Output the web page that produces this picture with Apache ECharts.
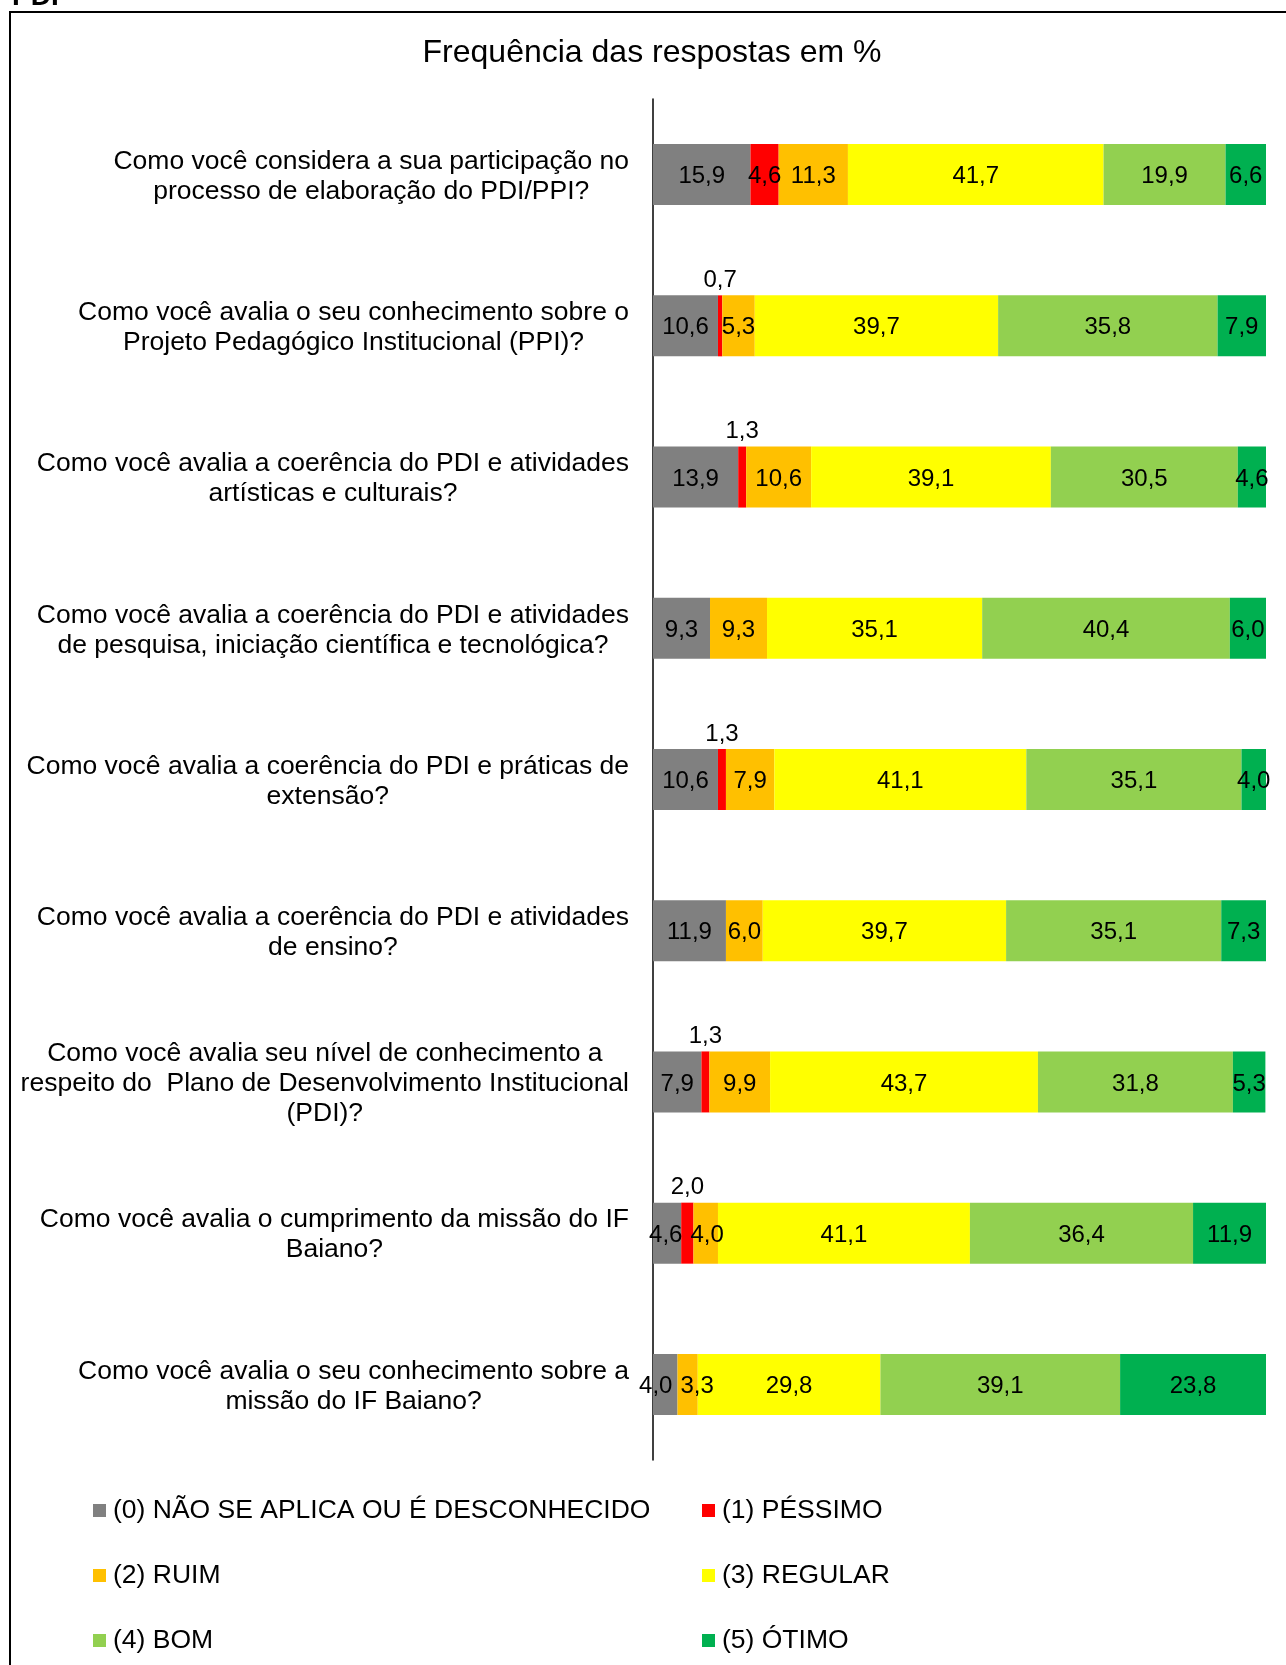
<!DOCTYPE html>
<html>
<head>
<meta charset="utf-8">
<script src="https://cdn.jsdelivr.net/npm/echarts@6/dist/echarts.min.js"></script>
<style>
  html, body { margin: 0; padding: 0; background: #fff; }
  #chart { width: 1286px; height: 1665px; }
</style>
</head>
<body>
<div id="chart"></div>
<script>
// ---- Data ----
const categories = [
  "Como você considera a sua participação no\nprocesso de elaboração do PDI/PPI?",
  "Como você avalia o seu conhecimento sobre o\nProjeto Pedagógico Institucional (PPI)?",
  "Como você avalia a coerência do PDI e atividades\nartísticas e culturais?",
  "Como você avalia a coerência do PDI e atividades\nde pesquisa, iniciação científica e tecnológica?",
  "Como você avalia a coerência do PDI e práticas de\nextensão?",
  "Como você avalia a coerência do PDI e atividades\nde ensino?",
  "Como você avalia seu nível de conhecimento a\nrespeito do  Plano de Desenvolvimento Institucional\n(PDI)?",
  "Como você avalia o cumprimento da missão do IF\nBaiano?",
  "Como você avalia o seu conhecimento sobre a\nmissão do IF Baiano?"
];
const seriesNames = [
  "(0) NÃO SE APLICA OU É DESCONHECIDO",
  "(1) PÉSSIMO",
  "(2) RUIM",
  "(3) REGULAR",
  "(4) BOM",
  "(5) ÓTIMO"
];
const naoSeAplica = [15.9, 10.6, 13.9, 9.3, 10.6, 11.9, 7.9, 4.6, 4.0];
const pessimo     = [4.6, 0.7, 1.3, 0, 1.3, 0, 1.3, 2.0, 0];
const ruim        = [11.3, 5.3, 10.6, 9.3, 7.9, 6.0, 9.9, 4.0, 3.3];
const regular     = [41.7, 39.7, 39.1, 35.1, 41.1, 39.7, 43.7, 41.1, 29.8];
const bom         = [19.9, 35.8, 30.5, 40.4, 35.1, 35.1, 31.8, 36.4, 39.1];
const otimo       = [6.6, 7.9, 4.6, 6.0, 4.0, 7.3, 5.3, 11.9, 23.8];
const titleText = "Frequência das respostas em %";
const headerText = "PDI";

// ---- Styles ----
const FONT = "'Liberation Sans', Arial, Helvetica, sans-serif";
const LABEL_SIZE = 24;
const colors = ['#808080', '#FF0000', '#FFC000', '#FFFF00', '#92D050', '#00B050'];
const allValues = [naoSeAplica, pessimo, ruim, regular, bom, otimo];

function fmt(v) { return v.toFixed(1).replace('.', ','); }
function isSmall(v) { return v > 0 && v < 2.5; }

function buildSeries(shifts) {
  return allValues.map((vals, i) => ({
    name: seriesNames[i],
    type: 'bar',
    stack: 'total',
    barWidth: 61,
    itemStyle: { color: colors[i] },
    label: {
      show: true,
      position: 'inside',
      offset: [0, 2],
      color: '#000',
      fontSize: LABEL_SIZE,
      fontFamily: FONT,
      formatter: p => (p.value ? fmt(p.value) : '')
    },
    data: vals.map((v, r) => {
      if (v === 0) return { value: 0, label: { show: false } };
      if (isSmall(v)) return { value: v, label: { position: 'top', distance: 3, offset: [0, 0] } };
      const dx = shifts ? shifts[i][r] : 0;
      return dx ? { value: v, label: { offset: [dx, 2] } } : v;
    })
  }));
}

const chart = echarts.init(document.getElementById('chart'), null, { renderer: 'canvas' });
const baseOption = {
  backgroundColor: '#fff',
  animation: false,
  textStyle: { fontFamily: FONT },
  graphic: [
    {
      type: 'rect', z: -10, silent: true,
      shape: { x: 10, y: 12, width: 1400, height: 1800 },
      style: { fill: 'none', stroke: '#000', lineWidth: 2 }
    },
    {
      type: 'text', silent: true,
      style: { text: headerText, x: 12, y: 11, font: "bold 28px " + FONT, fill: '#000',
               align: 'left', verticalAlign: 'bottom', textAlign: 'left', textVerticalAlign: 'bottom' }
    },
    {
      type: 'text', silent: true,
      style: { text: titleText, x: 652, y: 53, font: "32px " + FONT, fill: '#000',
               align: 'center', verticalAlign: 'middle', textAlign: 'center', textVerticalAlign: 'middle' }
    }
  ],
  grid: { left: 653, right: 20, top: 99, bottom: 205, containLabel: false },
  xAxis: { type: 'value', min: 0, max: 100, show: false },
  yAxis: {
    type: 'category',
    inverse: true,
    data: categories,
    axisLine: { show: true, lineStyle: { color: '#000', width: 1.5 } },
    axisTick: { show: false },
    splitLine: { show: false },
    axisLabel: {
      margin: 24,
      color: '#000',
      fontSize: 26.5,
      lineHeight: 30,
      padding: [4, 0, 0, 0],
      fontFamily: FONT,
      formatter: v => v.split('\n').map(l => '{c|' + l + '}').join('\n'),
      rich: { c: { align: 'center', fontSize: 26.5, lineHeight: 30, fontFamily: FONT, color: '#000' } }
    }
  },
  legend: [
    {
      data: [seriesNames[0], seriesNames[2], seriesNames[4]],
      orient: 'vertical', left: 93, top: 1497, padding: 0,
      itemWidth: 13, itemHeight: 13, itemGap: 38, icon: 'rect',
      selectedMode: false,
      textStyle: { fontSize: 26.5, lineHeight: 26, color: '#000', fontFamily: FONT, padding: [0, 0, 0, 2] }
    },
    {
      data: [seriesNames[1], seriesNames[3], seriesNames[5]],
      orient: 'vertical', left: 702, top: 1497, padding: 0,
      itemWidth: 13, itemHeight: 13, itemGap: 38, icon: 'rect',
      selectedMode: false,
      textStyle: { fontSize: 26.5, lineHeight: 26, color: '#000', fontFamily: FONT, padding: [0, 0, 0, 2] }
    }
  ],
  series: buildSeries(null)
};
chart.setOption(baseOption);

// Push apart in-bar labels of one row that would collide (like the spreadsheet does)
const ctx = document.createElement('canvas').getContext('2d');
ctx.font = LABEL_SIZE + "px " + FONT;
const shifts = allValues.map(vals => vals.map(() => 0));
for (let r = 0; r < categories.length; r++) {
  let acc = 0;
  const items = [];
  allValues.forEach((vals, i) => {
    const v = vals[r];
    const start = acc; acc += v;
    if (v > 0 && !isSmall(v)) {
      const cx = chart.convertToPixel({ xAxisIndex: 0 }, start + v / 2);
      items.push({ i, cx, w: ctx.measureText(fmt(v)).width });
    }
  });
  for (let k = 0; k + 1 < items.length; k++) {
    const a = items[k], b = items[k + 1];
    const need = (a.w + b.w) / 2 + 8;
    const ax = a.cx + shifts[a.i][r], bx = b.cx + shifts[b.i][r];
    const gap = bx - ax;
    if (gap < need) {
      const d = (need - gap) / 2;
      shifts[a.i][r] -= d;
      shifts[b.i][r] += d;
    }
  }
}
chart.setOption({ series: buildSeries(shifts) });
</script>
</body>
</html>
